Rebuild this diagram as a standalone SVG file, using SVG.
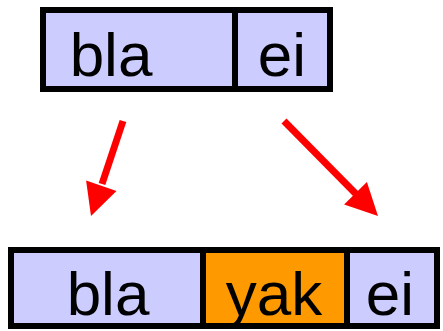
<svg xmlns="http://www.w3.org/2000/svg" width="443" height="331" viewBox="0 0 443 331">
<style>
.box{stroke:#000;stroke-width:6}
.lav{fill:#ccccff}
.org{fill:#ff9900}
.t{font-family:"Liberation Sans","DejaVu Sans",sans-serif;font-size:62px;fill:#000;text-anchor:middle}
.arr{stroke:#ff0000;stroke-width:7;fill:none}
.head{fill:#ff0000}
</style>
<g id="top">
<rect class="box lav" x="43" y="10" width="192" height="79"/>
<rect class="box lav" x="235" y="10" width="95" height="79"/>
<text class="t" x="111" y="76">bla</text>
<text class="t" x="282" y="76">ei</text>
</g>
<g id="bottom">
<rect class="box lav" x="11" y="250" width="192" height="76"/>
<rect class="box org" x="203" y="250" width="144" height="76"/>
<rect class="box lav" x="347" y="250" width="90" height="76"/>
<text class="t" x="108" y="315">bla</text>
<text class="t" x="274" y="315">yak</text>
<text class="t" x="390" y="315">ei</text>
</g>
<g id="connectors">
<line class="arr" x1="123" y1="121" x2="102" y2="184"/>
<polygon class="head" points="91,216 116.5,190.9 86.1,180.5"/>
<line class="arr" x1="284" y1="121" x2="357" y2="195"/>
<polygon class="head" points="378,216 344.1,204.5 366.9,181.9"/>
</g>
</svg>
